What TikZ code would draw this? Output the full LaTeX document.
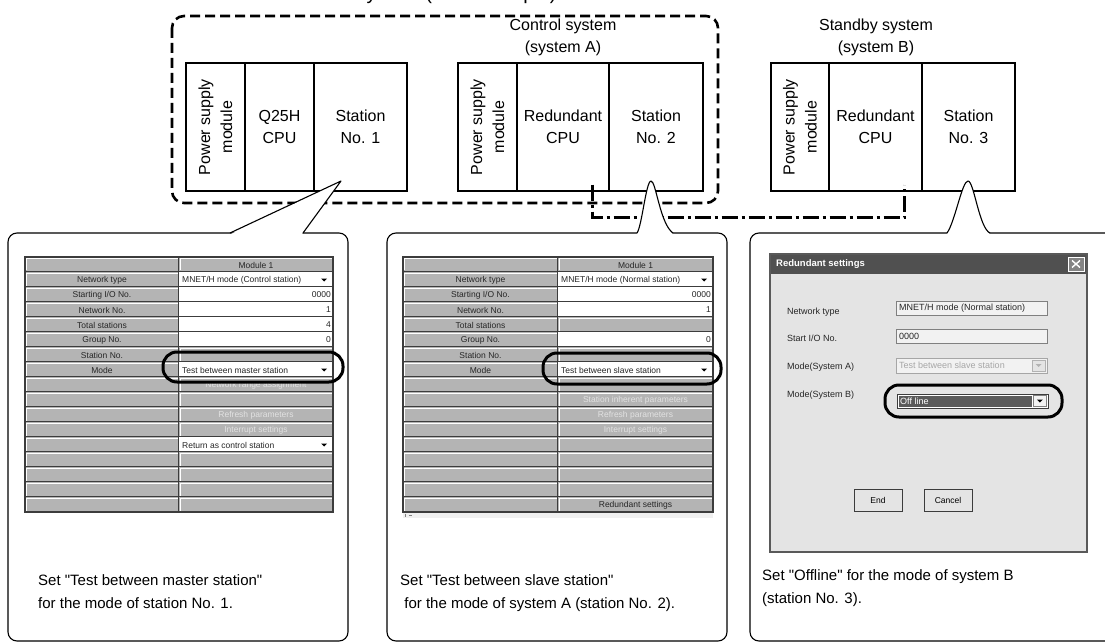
\documentclass[tikz,border=0pt]{standalone}
\usepackage{fontspec}
\setmainfont{Liberation Sans}[Ligatures=TeXOff]
\usetikzlibrary{calc}
\definecolor{cellgray}{RGB}{180,180,180}
\definecolor{darkline}{RGB}{60,60,60}
\definecolor{distext}{RGB}{226,226,226}
\definecolor{dlgbg}{RGB}{228,228,228}
\definecolor{titlebg}{RGB}{80,80,80}
\definecolor{fieldbg}{RGB}{242,242,242}
\definecolor{selbg}{RGB}{90,90,90}
\tikzset{
  modbox/.style={draw, line width=1.3pt, inner sep=0pt, minimum height=128pt},
  modtxt/.style={font=\fontsize{16}{22}\selectfont, align=center, inner sep=0pt},
  toplabel/.style={font=\fontsize{16}{22}\selectfont, align=center, inner sep=0pt},
  dashedbox/.style={line width=2.6pt, dash pattern=on 10pt off 5pt, rounded corners=12pt},
  dashdot/.style={line width=2.6pt, dash pattern=on 16pt off 4pt on 3pt off 4pt},
  callout/.style={draw, line width=1.1pt, fill=white, rounded corners=9pt},
  wedgeline/.style={line width=1.1pt, line join=round},
  tabtxt/.style={font=\fontsize{8.5}{10}\selectfont, inner sep=0pt, text=black!85},
  hilite/.style={line width=3pt, rounded corners=14pt},
  caption/.style={font=\fontsize{15}{23}\selectfont, anchor=base west, inner sep=0pt},
  dlgtxt/.style={font=\fontsize{9}{11}\selectfont, inner sep=0pt, anchor=west, text=black!85},
}
% table helpers
\newcommand\gcell[4]{%
  \fill[cellgray] (#1,#2) rectangle (#3,#4);
  \draw[white, line width=0.8pt] ({#1+1},{#4-1.5}) -- ({#1+1},{#2+1}) -- ({#3-1.5},{#2+1});
  \draw[darkline, line width=1.2pt] (#1,#4) -- (#3,#4) (#3,#2) -- (#3,#4);
}
\newcommand\wcell{%
  \fill[white] (\TM,\ya) rectangle (\TR,\yb);
  \draw[darkline, line width=1.2pt] (\TM,\yb) -- (\TR,\yb) (\TR,\ya) -- (\TR,\yb);
}
\newcommand\rkg[2]{\gcell{\TM}{\ya}{\TR}{\yb}}
\newcommand\rkh[2]{\gcell{\TM}{\ya}{\TR}{\yb}\node[tabtxt] (\TN r#2) at ({(\TM+\TR)/2},{\ya+8}) {#1};}
\newcommand\rkd[2]{\gcell{\TM}{\ya}{\TR}{\yb}\node[tabtxt, text=distext] (\TN r#2) at ({(\TM+\TR)/2},{\ya+8}) {#1};}
\newcommand\rkv[2]{\wcell\node[tabtxt, anchor=east] (\TN r#2) at ({\TR-2},{\ya+8}) {#1};}
\newcommand\rkc[2]{\wcell\node[tabtxt, anchor=west] (\TN r#2) at ({\TM+3},{\ya+8}) {#1};
  \fill[black] ({\TR-12},{\ya+6.5}) -- ({\TR-6},{\ya+6.5}) -- ({\TR-9},{\ya+9.5}) -- cycle;}
\newcommand\TabRow[4]{%
  \pgfmathsetmacro\ya{\TT+15*#1}%
  \pgfmathsetmacro\yb{\TT+15*#1+15}%
  \gcell{\TL}{\ya}{\TM}{\yb}%
  \node[tabtxt] (\TN l#1) at ({(\TL+\TM)/2},{\ya+8}) {#2};%
  \csname rk#3\endcsname{#4}{#1}%
}
\begin{document}
\begin{tikzpicture}[x=1pt,y=-1pt]
\useasboundingbox (0,0) rectangle (1105,644);
\fill[white] (0,0) rectangle (1105,644);

% title, cut off by the top edge as in the reference
\node[font=\fontsize{20}{22}\selectfont, anchor=base west, inner sep=0pt] (title) at (253,-0.5) {Redundant system (Test example)};

% labels
\node[toplabel] (lblA) at (563,37) {Control system\\(system A)};
\node[toplabel] (lblB) at (876,37) {Standby system\\(system B)};

% group 1
\node[modbox, minimum width=59pt] (ps1) at (215.5,127) {};
\node[modtxt, rotate=90] (ps1t) at (ps1.center) {Power supply\\module};
\node[modbox, minimum width=69pt, modtxt] (cpu1) at (279.5,127) {Q25H\\CPU};
\node[modbox, minimum width=93pt, modtxt] (st1) at (360.5,127) {Station\\No. 1};
% group 2 (system A)
\node[modbox, minimum width=59pt] (ps2) at (487.5,127) {};
\node[modtxt, rotate=90] (ps2t) at (ps2.center) {Power supply\\module};
\node[modbox, minimum width=92pt, modtxt] (cpu2) at (563,127) {Redundant\\CPU};
\node[modbox, minimum width=94pt, modtxt] (st2) at (656,127) {Station\\No. 2};
% group 3 (system B)
\node[modbox, minimum width=58pt] (ps3) at (800,127) {};
\node[modtxt, rotate=90] (ps3t) at (ps3.center) {Power supply\\module};
\node[modbox, minimum width=93pt, modtxt] (cpu3) at (875.5,127) {Redundant\\CPU};
\node[modbox, minimum width=93pt, modtxt] (st3) at (968.5,127) {Station\\No. 3};

% dashed frame
\draw[dashedbox] (172,16) rectangle (718,203);
% tracking cable
\coordinate (dA) at ($(cpu2.south east)+(-17,-7)$);
\coordinate (dB) at ($(cpu3.south east)+(-18,-7)$);
\draw[dashdot] (dA) -- ++(0,33) -| (dB);

% callout panels
\draw[callout] (8,233) rectangle (348,641);
\draw[callout] (387,233) rectangle (727,641);
\draw[callout] (750,233) rectangle (1125,641);
% wedge 1
\fill[white] (231,234) -- (341,181) -- (302,234) -- cycle;
\draw[wedgeline] (230,233) -- (341,181) -- (303,233);
% wedge 2
\fill[white] (637,234) .. controls (642,226) and (646,181) .. (651,181) .. controls (656,181) and (660,224) .. (673,234) -- cycle;
\draw[wedgeline] (637,233) .. controls (642,226) and (646,181) .. (651,181) .. controls (656,181) and (660,224) .. (673,233);
% wedge 3
\fill[white] (947,234) .. controls (955,222) and (962,181) .. (968,181) .. controls (974,181) and (979,228) .. (990,234) -- cycle;
\draw[wedgeline] (947,233) .. controls (955,222) and (962,181) .. (968,181) .. controls (974,181) and (979,228) .. (990,233);

% table 1
\def\TL{25}\def\TM{179}\def\TR{333}\def\TT{257}\def\TN{a}
\TabRow{0}{}{h}{Module 1}
\TabRow{1}{Network type}{c}{MNET/H mode (Control station)}
\TabRow{2}{Starting I/O No.}{v}{0000}
\TabRow{3}{Network No.}{v}{1}
\TabRow{4}{Total stations}{v}{4}
\TabRow{5}{Group No.}{v}{0}
\TabRow{6}{Station No.}{g}{}
\TabRow{7}{Mode}{c}{Test between master station}
\TabRow{8}{}{d}{Network range assignment}
\TabRow{9}{}{g}{}
\TabRow{10}{}{d}{Refresh parameters}
\TabRow{11}{}{d}{Interrupt settings}
\TabRow{12}{}{c}{Return as control station}
\TabRow{13}{}{g}{}
\TabRow{14}{}{g}{}
\TabRow{15}{}{g}{}
\TabRow{16}{}{g}{}
\draw[darkline, line width=1.2pt] (25,257) rectangle (333,512);
\draw[hilite] (163,352) rectangle (343,382);

% table 2
\def\TL{403}\def\TM{558}\def\TR{713}\def\TT{257}\def\TN{b}
\TabRow{0}{}{h}{Module 1}
\TabRow{1}{Network type}{c}{MNET/H mode (Normal station)}
\TabRow{2}{Starting I/O No.}{v}{0000}
\TabRow{3}{Network No.}{v}{1}
\TabRow{4}{Total stations}{g}{}
\TabRow{5}{Group No.}{v}{0}
\TabRow{6}{Station No.}{g}{}
\TabRow{7}{Mode}{c}{Test between slave station}
\TabRow{8}{}{g}{}
\TabRow{9}{}{d}{Station inherent parameters}
\TabRow{10}{}{d}{Refresh parameters}
\TabRow{11}{}{d}{Interrupt settings}
\TabRow{12}{}{g}{}
\TabRow{13}{}{g}{}
\TabRow{14}{}{g}{}
\TabRow{15}{}{g}{}
\TabRow{16}{}{h}{Redundant settings}
\draw[darkline, line width=1.2pt] (403,257) rectangle (713,512);
\fill[gray!12] (403,513) rectangle (713,518);
\draw[gray, line width=0.6pt] (405,514) -- (405,517) (409,515) -- (412,515);
\draw[hilite] (543,353) rectangle (721,384);

% dialog (panel 3)
\fill[dlgbg] (770,254) rectangle (1087,552);
\fill[titlebg, rounded corners=3pt] (770,254) rectangle (1087,274);
\fill[titlebg] (770,266) rectangle (1087,274);
\draw[darkline!85, line width=2pt] (770,254) rectangle (1087,552);
\node[font=\bfseries\fontsize{9.5}{11}\selectfont, text=white, anchor=west, inner sep=0pt] (dlgtitle) at (776,264) {Redundant settings};
\draw[white, line width=0.8pt, fill=titlebg!70] (1068,257) rectangle (1084,271);
\draw[white, line width=1.4pt] (1072,260.5) -- (1080,267.5) (1080,260.5) -- (1072,267.5);

\node[dlgtxt] (lnt) at (787,312) {Network type};
\node[dlgtxt] (lsio) at (787,338) {Start I/O No.};
\node[dlgtxt] (lma) at (787,367) {Mode(System A)};
\node[dlgtxt] (lmb) at (787,395) {Mode(System B)};

\draw[gray, line width=0.8pt, fill=fieldbg] (896,301) rectangle (1047,315);
\node[dlgtxt] (fnt) at (899,308) {MNET/H mode (Normal station)};
\draw[gray, line width=0.8pt, fill=fieldbg] (896,329) rectangle (1047,343);
\node[dlgtxt] (fsio) at (899,336) {0000};
\draw[gray!70, line width=0.8pt, fill=fieldbg] (896,358) rectangle (1047,373);
\node[dlgtxt, text=gray!70] (fma) at (899,365.5) {Test between slave station};
\draw[gray!60, line width=0.6pt, fill=dlgbg] (1032,360) rectangle (1045,371);
\fill[gray!60] (1035.5,364) -- (1041.5,364) -- (1038.5,367) -- cycle;

\draw[darkline, line width=0.8pt, fill=white] (897,394) rectangle (1048,408);
\fill[selbg] (898.5,395.5) rectangle (1031.5,406.5);
\node[dlgtxt, text=white] (fmb) at (900,401) {Off line};
\draw[gray, line width=0.6pt, fill=fieldbg] (1033,395.5) rectangle (1046.5,406.5);
\fill[black] (1036.8,399.5) -- (1042.8,399.5) -- (1039.8,402.5) -- cycle;
\draw[hilite] (885,385) rectangle (1062,417);

\node[draw=darkline, line width=0.8pt, fill=dlgbg, minimum width=48pt, minimum height=22pt, inner sep=0pt, font=\fontsize{8.5}{10}\selectfont] (bEnd) at (878,500) {End};
\node[draw=darkline, line width=0.8pt, fill=dlgbg, minimum width=48pt, minimum height=22pt, inner sep=0pt, font=\fontsize{8.5}{10}\selectfont] (bCancel) at (948,500) {Cancel};

% captions
\node[caption] (cap1a) at (38,585) {Set "Test between master station"};
\node[caption] (cap1b) at (38,608) {for the mode of station No. 1.};
\node[caption] (cap2a) at (400,585) {Set "Test between slave station"};
\node[caption] (cap2b) at (400,608) {\ for the mode of system A (station No. 2).};
\node[caption] (cap3a) at (762,580) {Set "Offline" for the mode of system B};
\node[caption] (cap3b) at (762,603) {(station No. 3).};
\end{tikzpicture}
\end{document}
